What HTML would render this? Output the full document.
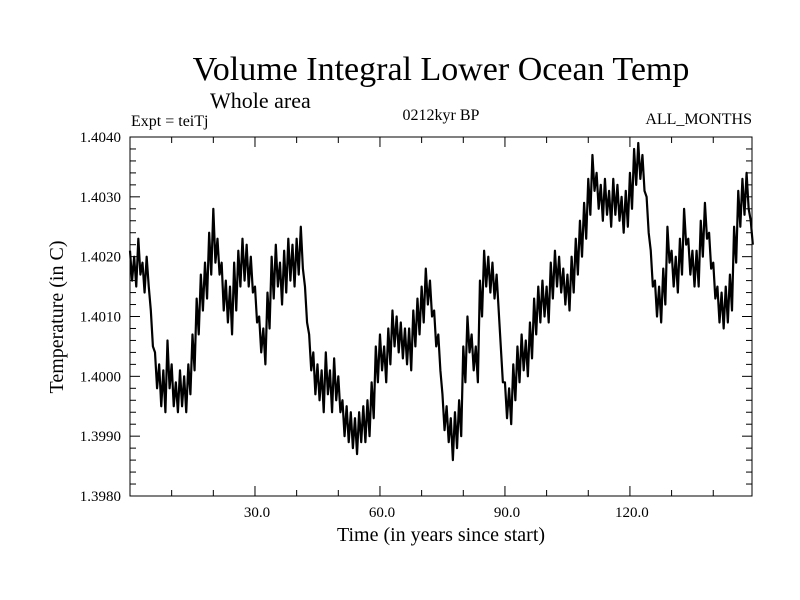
<!DOCTYPE html>
<html>
<head>
<meta charset="utf-8">
<style>
  html,body{margin:0;padding:0;background:#fff;}
  svg{display:block;}
  text{font-family:"Liberation Serif",serif;fill:#000;}
</style>
</head>
<body>
<svg id="chart" width="800" height="600" viewBox="0 0 800 600" xmlns="http://www.w3.org/2000/svg">
  <rect x="0" y="0" width="800" height="600" fill="#fff"/>
  <text x="441" y="80" font-size="34" text-anchor="middle">Volume Integral Lower Ocean Temp</text>
  <text x="210" y="108" font-size="22">Whole area</text>
  <text x="131" y="126" font-size="16">Expt = teiTj</text>
  <text x="441" y="120" font-size="16" text-anchor="middle">0212kyr BP</text>
  <text x="752" y="124" font-size="16" text-anchor="end">ALL_MONTHS</text>
  <g id="ticks"></g>
  <g id="series"></g>
  <rect x="130" y="137" width="622" height="359" fill="none" stroke="#000" stroke-width="1"/>
  <text x="441" y="541" font-size="20" text-anchor="middle">Time (in years since start)</text>
  <text x="0" y="0" font-size="20" text-anchor="middle" transform="translate(63,317) rotate(-90)">Temperature (in C)</text>
</svg>
<script>
// Values in units of 1e-4 C above 1.3980, every half year from year 0
const valuesE4 = [
41,36,40,35,43,37,39,34,40,35,31,25,24,18,22,15,21,14,26,18,
22,15,19,14,21,15,20,14,22,17,27,21,33,27,37,31,39,33,44,37,
48,39,43,37,39,31,36,29,35,27,39,31,41,35,43,36,42,35,40,34,
35,29,30,24,28,22,34,28,40,33,42,35,39,32,41,34,43,36,42,35,
43,37,45,38,35,29,27,21,24,17,22,16,21,14,24,17,21,14,23,16,
20,14,16,10,15,9,14,8,13,7,14,9,15,9,16,10,19,13,25,19,
27,21,25,19,28,22,31,25,30,24,29,23,28,22,28,21,31,25,33,27,
35,29,38,32,36,30,31,25,27,21,17,11,15,9,13,6,14,8,16,10,
25,19,30,24,27,21,25,19,36,30,41,35,40,34,39,33,37,31,25,19,
19,13,18,12,22,16,25,19,27,21,26,20,29,23,33,27,35,29,36,30,
35,29,39,33,41,35,40,34,38,32,37,31,40,34,43,37,46,40,49,43,
53,47,57,51,54,48,52,46,53,47,51,45,53,47,52,46,50,44,51,45,
54,48,58,52,59,53,57,51,50,44,41,35,36,30,35,29,38,32,45,39,
41,35,40,34,43,37,48,42,43,37,41,35,41,35,46,40,49,43,44,38,
39,33,35,29,34,28,35,29,37,31,45,39,51,45,53,47,54,48,46,42
];
const timeStep = 0.5;
const baseTemp = 1.3980;
const xTickValues = [30, 60, 90, 120];
const xTickLabels = ["30.0", "60.0", "90.0", "120.0"];
const yTickValues = [1.3980, 1.3990, 1.4000, 1.4010, 1.4020, 1.4030, 1.4040];
const yTickLabels = ["1.3980", "1.3990", "1.4000", "1.4010", "1.4020", "1.4030", "1.4040"];

const X0 = 130, X1 = 752, Y0 = 496, Y1 = 137;
const xMin = 0, xMax = 149.3, yMin = 1.3980, yMax = 1.4040;
function xs(v){ return X0 + (v - xMin) / (xMax - xMin) * (X1 - X0); }
function ys(v){ return Y0 - (v - yMin) / (yMax - yMin) * (Y0 - Y1); }

const NS = "http://www.w3.org/2000/svg";
const ticks = document.getElementById('ticks');
function line(x1,y1,x2,y2,name){
  const l = document.createElementNS(NS,'line');
  l.setAttribute('x1',x1); l.setAttribute('y1',y1);
  l.setAttribute('x2',x2); l.setAttribute('y2',y2);
  l.setAttribute('stroke','#000'); l.setAttribute('stroke-width','1');
  
  
  ticks.appendChild(l);
}
for (let v = 10; v < xMax; v += 10) {
  const x = xs(v);
  const len = (v % 30 === 0) ? 10 : 6;
  line(x, Y0, x, Y0 - len, 'x-tick-bottom');
  line(x, Y1, x, Y1 + len, 'x-tick-top');
}
xTickValues.forEach((v,i) => {
  const t = document.createElementNS(NS,'text');
  t.setAttribute('x', xs(v) + 2); t.setAttribute('y', 517);
  t.setAttribute('font-size','15'); t.setAttribute('text-anchor','middle');
  
  
  t.textContent = xTickLabels[i];
  ticks.appendChild(t);
});
for (let k = 1; k < 30; k++) {
  const v = yMin + k * 0.0002;
  const y = ys(v);
  const len = (k % 5 === 0) ? 10 : 6;
  line(X0, y, X0 + len, y, 'y-tick-left');
  line(X1, y, X1 - len, y, 'y-tick-right');
}
yTickValues.forEach((v,i) => {
  const t = document.createElementNS(NS,'text');
  t.setAttribute('x', 121); t.setAttribute('y', ys(v) + 5);
  t.setAttribute('font-size','15'); t.setAttribute('text-anchor','end');
  
  
  t.textContent = yTickLabels[i];
  ticks.appendChild(t);
});
let d = '';
valuesE4.forEach((v,i) => {
  const x = xs(i * timeStep);
  const y = ys(baseTemp + v / 10000);
  d += (i ? 'L' : 'M') + x.toFixed(2) + ' ' + y.toFixed(2);
});
const p = document.createElementNS(NS,'path');
p.setAttribute('d', d);
p.setAttribute('fill','none');
p.setAttribute('stroke','#000');
p.setAttribute('stroke-width','2.2');
p.setAttribute('stroke-linejoin','round');


document.getElementById('series').appendChild(p);
</script>
</body>
</html>
